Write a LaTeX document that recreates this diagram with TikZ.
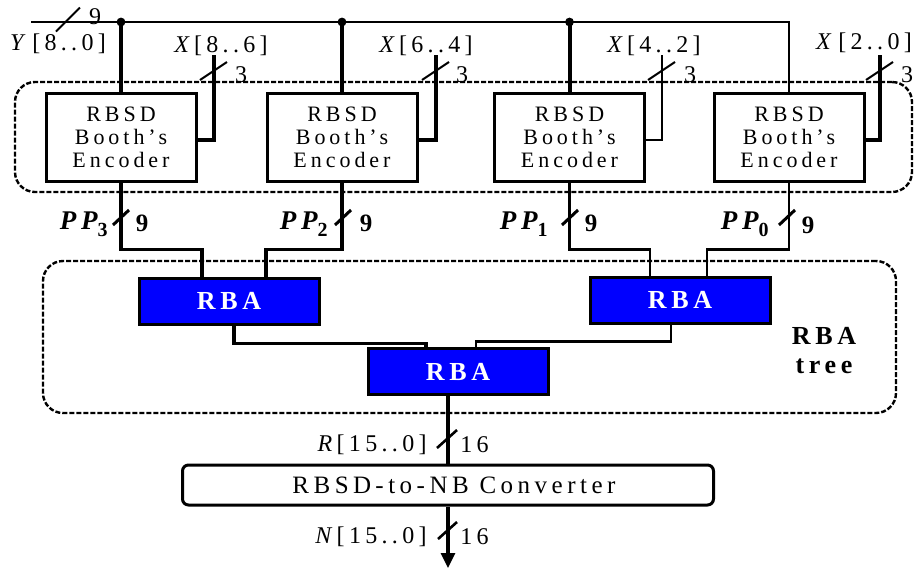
\documentclass[tikz,border=0pt]{standalone}
\usepackage{fontspec}
\setmainfont{Liberation Serif}[LetterSpace=18]
\usetikzlibrary{calc,arrows.meta}
\definecolor{rbablue}{RGB}{0,0,255}
\newcommand\mywslash[3]{\draw[#1] ($(#2)+(-#3,#3)$) -- ($(#2)+(#3,-#3)$);}
\begin{document}
\begin{tikzpicture}[x=0.5pt,y=-0.5pt,
  grp/.style={draw, line width=1.2pt, dash pattern=on 2.5pt off 1pt, rounded corners=10pt, inner sep=0pt},
  encbox/.style={draw, fill=white, line width=1.5pt, minimum width=75pt, minimum height=44pt, inner sep=0pt, align=center, font=\fontsize{11}{11.5}\selectfont},
  rbabox/.style={draw, fill=rbablue, line width=1.5pt, minimum width=90pt, minimum height=23pt, inner sep=0pt, text=white, font=\fontsize{13}{13}\selectfont\bfseries},
  convbox/.style={draw, fill=white, rounded corners=3pt, line width=1.5pt, minimum width=265.5pt, minimum height=20pt, inner sep=0pt, font=\fontsize{12.5}{12.5}\selectfont},
  lbl/.style={inner sep=0pt, font=\fontsize{12}{12}\selectfont},
  pplbl/.style={inner sep=0pt, font=\fontsize{13.5}{13.5}\selectfont\bfseries\itshape},
  numlbl/.style={inner sep=0pt, font=\fontsize{12.5}{12.5}\selectfont\bfseries},
  buswire/.style={line width=1pt},
  wire/.style={line width=1.6pt},
  thinwire/.style={line width=1.1pt},
  slashln/.style={line width=1pt},
  ppslash/.style={line width=1.5pt}
]
\useasboundingbox (0,0) rectangle (920,569);

% groups
\node[grp, minimum width=448.5pt, minimum height=55pt] (encgrp) at (463.5,137) {};
\node[grp, minimum width=426.5pt, minimum height=76pt] (rbagrp) at (469.5,337) {};

% encoders
\node[encbox] (enc1) at (121,137) {RBSD\\Booth’s\\Encoder};
\node[encbox] (enc2) at (342,137) {RBSD\\Booth’s\\Encoder};
\node[encbox] (enc3) at (569.5,137) {RBSD\\Booth’s\\Encoder};
\node[encbox] (enc4) at (789,137) {RBSD\\Booth’s\\Encoder};

% RBAs
\node[rbabox] (rba1) at (229,301) {RBA};
\node[rbabox] (rba2) at (680,300) {RBA};
\node[rbabox] (rba3) at (458,371.5) {RBA};

% converter
\node[convbox] (conv) at (448,485) {\hspace{6pt}RBSD\,-to-NB Converter};

% bus
\coordinate (busstart) at (31,22);
\coordinate (out) at (448,568);
\draw[buswire] (busstart) -- (enc4.north |- busstart) -- (enc4.north);
\foreach \e in {enc1,enc2,enc3}{
  \draw[wire, line width=2pt] (\e.north |- busstart) -- (\e.north);
  \fill (\e.north |- busstart) circle (2.2pt);
}
\mywslash{slashln}{68,19.5}{12}
\node[lbl] (n9) at (95,17) {9};
\node[lbl] (ylbl) at (58,44) {\textit{Y}\hspace{0.1em}[8..0]};

% X inputs
\coordinate (x1) at (214,55);
\coordinate (x2) at (436,55);
\coordinate (x3) at (662,55);
\coordinate (x4) at (880,55);
\draw[wire] ($(enc1.east)+(0,3)$) -| (x1);
\draw[wire] ($(enc2.east)+(0,3)$) -| (x2);
\draw[thinwire] ($(enc3.east)+(0,3)$) -| (x3);
\draw[wire] ($(enc4.east)+(0,3)$) -| (x4);
\draw[slashln] (200,80) -- (227,62);
\draw[slashln] (422,80) -- (449,62);
\draw[slashln] (648,80) -- (675,62);
\draw[slashln] (866,80) -- (893,62);
\node[lbl] (xl1) at (221,46) {\textit{X}[8..6]};
\node[lbl] (xl2) at (426,46) {\textit{X}[6..4]};
\node[lbl] (xl3) at (654,46) {\textit{X}[4..2]};
\node[lbl] (xl4) at (864,43) {\textit{X}\hspace{0.1em}[2..0]};
\node[lbl] (t1) at (241,75) {3};
\node[lbl] (t2) at (462,75) {3};
\node[lbl] (t3) at (690,75) {3};
\node[lbl] (t4) at (907,75) {3};

% partial products
\draw[wire] (enc1.south) -- ++(0,67) -| ($(rba1.north)+(-27,0)$);
\draw[wire] (enc2.south) -- ++(0,67) -| ($(rba1.north)+(37,0)$);
\draw[thinwire] (enc3.south) -- ++(0,67) -| ($(rba2.north)+(-30,0)$);
\draw[thinwire] (enc4.south) -- ++(0,67) -| ($(rba2.north)+(27,0)$);
\draw[ppslash] (113,225) -- (129,210);
\draw[ppslash] (335,225) -- (351,210);
\draw[ppslash] (562,225) -- (578,210);
\draw[ppslash] (779,225) -- (795,210);
\node[pplbl, anchor=east] (pp3) at (108,224) {PP\raisebox{-3.5pt}{\fontsize{10}{10}\selectfont\bfseries\upshape 3}};
\node[pplbl, anchor=east] (pp2) at (328,224) {PP\raisebox{-3.5pt}{\fontsize{10}{10}\selectfont\bfseries\upshape 2}};
\node[pplbl, anchor=east] (pp1) at (548,224) {PP\raisebox{-3.5pt}{\fontsize{10}{10}\selectfont\bfseries\upshape 1}};
\node[pplbl, anchor=east] (pp0) at (769,224) {PP\raisebox{-3.5pt}{\fontsize{10}{10}\selectfont\bfseries\upshape 0}};
\node[numlbl] (w3) at (142,223) {9};
\node[numlbl] (w2) at (366,223) {9};
\node[numlbl] (w1) at (591,223) {9};
\node[numlbl] (w0) at (808,225) {9};

% tree connections
\draw[wire] ($(rba1.south)+(5,0)$) -- ++(0,18) -| ($(rba3.north)+(-32,0)$);
\draw[thinwire] ($(rba2.south)+(-9,0)$) -- ++(0,17) -| ($(rba3.north)+(18,0)$);
\node[inner sep=0pt, align=center, font=\fontsize{13}{14.5}\selectfont\bfseries] (treelbl) at (824,351) {RBA\\tree};

% output path
\draw[wire] (rba3.south -| conv.north) -- (conv.north);
\draw[wire, -{Triangle[width=7pt,length=7.5pt]}] (conv.south) -- (out);
\draw[slashln, line width=1.3pt] (437,448) -- (457,430);
\draw[slashln, line width=1.3pt] (438,539) -- (457,522);
\node[lbl, anchor=east] (rlbl) at (427,445) {\textit{R}[15..0]};
\node[lbl, anchor=west] (r16) at (460,445) {16};
\node[lbl, anchor=east] (nlbl) at (427,537) {\textit{N}[15..0]};
\node[lbl, anchor=west] (n16) at (460,537) {16};
\end{tikzpicture}
\end{document}
